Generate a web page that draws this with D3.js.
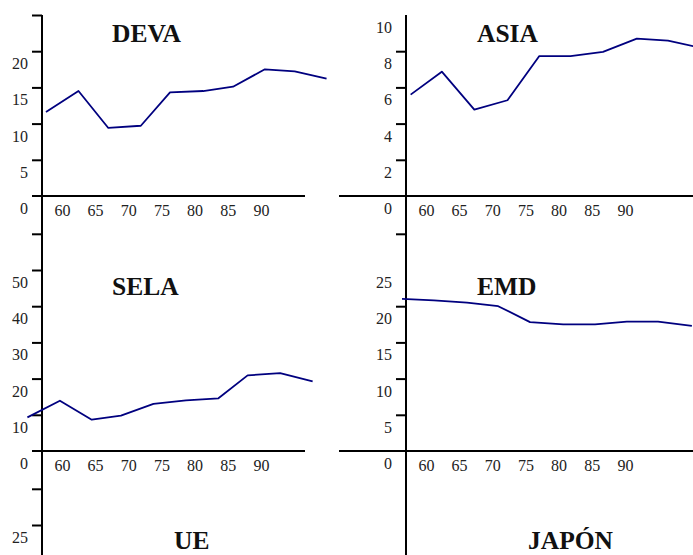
<!DOCTYPE html>
<html>
<head>
<meta charset="utf-8">
<script src="https://cdn.jsdelivr.net/npm/d3@7/dist/d3.min.js"></script>
<style>
  html, body { margin: 0; padding: 0; background: #fff; }
  svg { display: block; }
  .tick-label { font-family: "Liberation Serif", "Times New Roman", serif; font-size: 16px; fill: #222; }
  .title { font-family: "Liberation Serif", "Times New Roman", serif; font-size: 25.5px; font-weight: bold; fill: #111; }
</style>
</head>
<body>
<svg id="chart" width="693" height="555"></svg>
<script>
// Years shown under every panel's horizontal axis
const yearLabels = [60, 65, 70, 75, 80, 85, 90];

// Series: year positions and values per region
const devaYears  = [57.6, 62.5, 67.0, 71.9, 76.3, 81.3, 85.8, 90.6, 95.1, 99.9];
const devaValues = [11.6, 14.5, 9.4, 9.7, 14.3, 14.5, 15.1, 17.5, 17.2, 16.2];

const asiaYears  = [57.7, 62.4, 67.3, 72.3, 77.1, 81.8, 86.7, 91.8, 96.5, 101.3];
const asiaValues = [5.6, 6.87, 4.77, 5.29, 7.73, 7.73, 7.96, 8.69, 8.58, 8.2];

const selaYears  = [54.8, 59.7, 64.5, 68.9, 73.8, 78.7, 83.6, 88.0, 92.9, 97.8];
const selaValues = [9.3, 13.9, 8.65, 9.75, 13.0, 14.0, 14.56, 20.9, 21.5, 19.25];

const emdYears   = [56.4, 61.2, 66.2, 70.9, 75.7, 80.7, 85.5, 90.3, 95.0, 100.1];
const emdValues  = [21.0, 20.8, 20.5, 20.0, 17.8, 17.5, 17.5, 17.86, 17.86, 17.27];

// Vertical axis: tick marks and labelled values per region
const devaTicks  = [5, 10, 15, 20, 25];
const devaLabels = [0, 5, 10, 15, 20];
const asiaTicks  = [2, 4, 6, 8];
const asiaLabels = [0, 2, 4, 6, 8, 10];
const selaTicks  = [10, 20, 30, 40, 50, 60];
const selaLabels = [0, 10, 20, 30, 40, 50];
const emdTicks   = [5, 10, 15, 20, 30];
const emdLabels  = [0, 5, 10, 15, 20, 25];
const ueTicks    = [5, 10, 15, 20, 25, 30];
const ueLabels   = [0, 5, 10, 15, 20, 25];
const japonTicks  = [10, 20, 30];
const japonLabels = [0, 10, 20];

const panels = [
  { title: "DEVA",  col: 0, row: 0, step: 5,  years: devaYears, values: devaValues, ticks: devaTicks, labels: devaLabels, tx: 112 },
  { title: "ASIA",  col: 1, row: 0, step: 2,  years: asiaYears, values: asiaValues, ticks: asiaTicks, labels: asiaLabels, tx: 477 },
  { title: "SELA",  col: 0, row: 1, step: 10, years: selaYears, values: selaValues, ticks: selaTicks, labels: selaLabels, tx: 112 },
  { title: "EMD",   col: 1, row: 1, step: 5,  years: emdYears,  values: emdValues,  ticks: emdTicks,  labels: emdLabels,  tx: 477 },
  { title: "UE",    col: 0, row: 2, step: 5,  years: [], values: [], ticks: ueTicks, labels: ueLabels, tx: 174 },
  { title: "JAPÓN", col: 1, row: 2, step: 10, years: [], values: [], ticks: japonTicks, labels: japonLabels, tx: 528 }
];

// Layout
const W = 693, H = 555;
const axisXs = [42, 406];          // vertical axis per column
const baselines = [196, 451, 706]; // zero line per row
const titleRise = [154, 156, 157]; // title baseline above the zero line, per row
const tickPx = 36.2;               // distance between tick marks
const yearPx = 6.633;              // pixels per year
const labelDrop = 17.5;            // value labels sit below their level
const xAxisSpan = [[32, 305], [339, 720]];

const svg = d3.select("#chart");
const g = svg.append("g");

// Continuous vertical axes for each column
axisXs.forEach(ax => {
  g.append("line")
    .attr("x1", ax).attr("x2", ax)
    .attr("y1", 15).attr("y2", H + 5)
    .attr("stroke", "#000").attr("stroke-width", 2);
});

panels.forEach(p => {
  const ax = axisXs[p.col];
  const base = baselines[p.row];
  const y = d3.scaleLinear()
    .domain([0, p.step])
    .range([base, base - tickPx]);
  const x = d3.scaleLinear()
    .domain([57, 97])
    .range([ax, ax + 40 * yearPx]);

  // only what falls inside the page
  const ticksIn = p.ticks.filter(v => y(v) < H);
  const labelsIn = p.labels.filter(v => y(v) + labelDrop < H);

  // horizontal zero line
  if (base < H) {
    const span = xAxisSpan[p.col];
    g.append("line")
      .attr("x1", span[0]).attr("x2", span[1])
      .attr("y1", base).attr("y2", base)
      .attr("stroke", "#000").attr("stroke-width", 2);
  }

  // tick marks
  const tickAxis = d3.axisLeft(y).tickValues(ticksIn).tickSize(10).tickSizeOuter(0).tickFormat("");
  const tg = g.append("g").attr("transform", `translate(${ax},0)`).call(tickAxis);
  tg.select(".domain").remove();
  tg.selectAll(".tick line").attr("stroke", "#000").attr("stroke-width", 2);

  // value labels
  const labelAxis = d3.axisLeft(y).tickValues(labelsIn).tickSize(0).tickPadding(14).tickFormat(d3.format("d"));
  const lg = g.append("g").attr("transform", `translate(${ax},0)`).call(labelAxis);
  lg.select(".domain").remove();
  lg.selectAll(".tick line").remove();
  lg.selectAll(".tick text")
    .attr("class", "tick-label")
    .attr("fill", null)
    .attr("dy", labelDrop);
  lg.attr("font-family", null).attr("font-size", null);

  // year labels under the zero line
  if (base + 20 < H) {
    const xAxis = d3.axisBottom(x).tickValues(yearLabels).tickSize(0).tickPadding(0).tickFormat(d3.format("d"));
    const xg = g.append("g").attr("transform", `translate(0,${base})`).call(xAxis);
    xg.select(".domain").remove();
    xg.selectAll(".tick line").remove();
    xg.selectAll(".tick text")
      .attr("class", "tick-label")
      .attr("fill", null)
      .attr("dy", null)
      .attr("y", 20);
    xg.attr("font-family", null).attr("font-size", null);
  }

  // series line
  if (p.values.length) {
    const pts = p.values.map((v, i) => [p.years[i], v]);
    const line = d3.line().x(d => x(d[0])).y(d => y(d[1]));
    g.append("path")
      .datum(pts)
      .attr("d", line)
      .attr("fill", "none")
      .attr("stroke", "#00007f")
      .attr("stroke-width", 1.8)
      .attr("stroke-linejoin", "round");
  }

  // panel title
  g.append("text")
    .attr("class", "title")
    .attr("x", p.tx)
    .attr("y", base - titleRise[p.row])
    .text(p.title);
});
</script>
</body>
</html>
